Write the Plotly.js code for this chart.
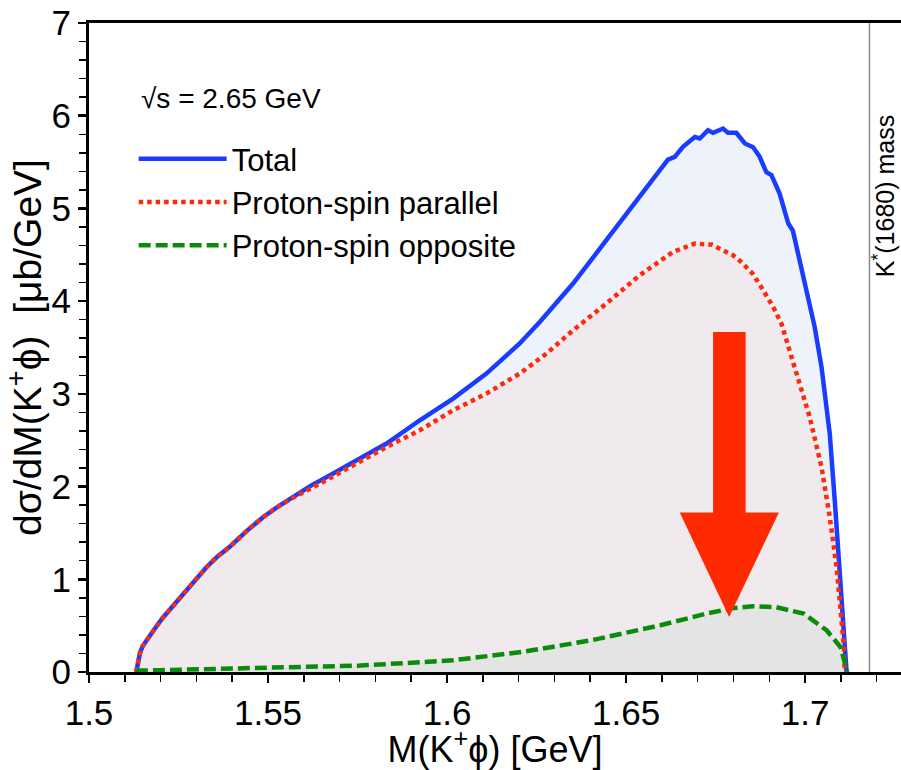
<!DOCTYPE html>
<html>
<head>
<meta charset="utf-8">
<script src="https://cdn.plot.ly/plotly-3.0.1.min.js"></script>
<style>html,body{margin:0;padding:0;background:#fff;}#plot{width:901px;height:770px;}</style>
</head>
<body>
<div id="plot"></div>
<script>
// ---- data ----
const totalM = [1.5132,1.5136,1.5142,1.5150,1.5160,1.5175,1.5188,1.5205,1.5225,1.5250,1.5272,1.5300,1.5328,1.5360,1.5393,1.5440,1.5486,1.5530,1.5579,1.5620,1.5672,1.5737,1.5831,1.5924,1.6017,1.6110,1.6203,1.6259,1.6296,1.6352,1.6445,1.6538,1.6580,1.6617,1.6636,1.6659,1.6692,1.6706,1.6729,1.6743,1.6771,1.6785,1.6808,1.6832,1.6855,1.6873,1.6892,1.6906,1.6929,1.6953,1.6966,1.6985,1.7008,1.7027,1.7046,1.7060,1.7069,1.7083,1.7097,1.7106,1.7112,1.7116];
const totalY = [0,0.10,0.20,0.28,0.34,0.42,0.49,0.58,0.67,0.78,0.88,1.01,1.13,1.25,1.35,1.52,1.67,1.79,1.91,2.01,2.12,2.265,2.464,2.715,2.949,3.219,3.543,3.776,3.94,4.19,4.657,5.124,5.33,5.527,5.556,5.664,5.771,5.754,5.844,5.815,5.862,5.815,5.815,5.70,5.66,5.56,5.39,5.36,5.16,4.84,4.76,4.44,4.08,3.72,3.29,2.82,2.57,1.85,1.13,0.59,0.2,0];

const parM = [1.5132,1.5136,1.5142,1.5150,1.5160,1.5175,1.5188,1.5205,1.5225,1.5250,1.5272,1.5300,1.5328,1.5360,1.5393,1.5440,1.5486,1.5530,1.5579,1.5644,1.5737,1.5831,1.5924,1.6017,1.6110,1.6203,1.6278,1.6352,1.6445,1.6538,1.6631,1.6692,1.6739,1.6799,1.6822,1.6855,1.6883,1.6911,1.6934,1.6957,1.6980,1.7004,1.7013,1.7046,1.7069,1.7088,1.7102,1.7108,1.7111];
const parY = [0,0.10,0.20,0.28,0.34,0.42,0.49,0.58,0.67,0.78,0.88,1.01,1.13,1.25,1.35,1.52,1.67,1.79,1.90,2.03,2.23,2.427,2.607,2.823,3.003,3.219,3.435,3.686,3.974,4.279,4.531,4.621,4.610,4.495,4.423,4.29,4.118,3.937,3.758,3.47,3.20,2.895,2.75,2.211,1.672,1.133,0.593,0.3,0];

const oppM = [1.5132,1.5139,1.5200,1.5300,1.5500,1.5758,1.6016,1.6209,1.6403,1.6596,1.6725,1.6800,1.6854,1.6918,1.6996,1.7060,1.7099,1.7112,1.7118];
const oppY = [0,0.015,0.02,0.03,0.05,0.069,0.126,0.216,0.342,0.504,0.63,0.69,0.709,0.70,0.63,0.45,0.27,0.10,0];

const xTickVals = [1.5,1.55,1.6,1.65,1.7];
const xTickText = ["1.5","1.55","1.6","1.65","1.7"];
const yTickVals = [0,1,2,3,4,5,6,7];
const seriesNames = ["Total","Proton-spin parallel","Proton-spin opposite"];
const kStarMass = 1.718;
const sqrtS = "2.65";

// ---- styles ----
const FONT = "Liberation Sans, Arial, Helvetica, sans-serif";
const blue = "#1a3cff", red = "#ff2a0a", green = "#0a8c0a";
const blueFill = "rgb(238,243,251)", redFill = "rgb(240,233,238)", greenFill = "rgb(228,228,228)";

const traces = [
  {x: totalM, y: totalY, mode: "lines", fill: "tozeroy", fillcolor: blueFill, line: {width: 0, color: blueFill}, showlegend: false, hoverinfo: "skip"},
  {x: parM, y: parY, mode: "lines", fill: "tozeroy", fillcolor: redFill, line: {width: 0, color: redFill}, showlegend: false, hoverinfo: "skip"},
  {x: oppM, y: oppY, mode: "lines", fill: "tozeroy", fillcolor: greenFill, line: {width: 0, color: greenFill}, showlegend: false, hoverinfo: "skip"},
  {x: totalM, y: totalY, mode: "lines", name: seriesNames[0], line: {color: blue, width: 4.5}},
  {x: parM, y: parY, mode: "lines", name: seriesNames[1], line: {color: red, width: 4.5, dash: "4.5px,4px"}},
  {x: oppM, y: oppY, mode: "lines", name: seriesNames[2], line: {color: green, width: 4.5, dash: "12px,5px"}}
];

const layout = {
  width: 901, height: 770,
  margin: {l: 89, r: 0, t: 23, b: 98},
  paper_bgcolor: "#fff", plot_bgcolor: "#fff",
  font: {family: FONT, color: "#000", size: 34},
  showlegend: true,
  legend: {x: 0.055, y: 0.832, xanchor: "left", yanchor: "top", bgcolor: "rgba(0,0,0,0)",
           font: {family: FONT, size: 31, color: "#000"}, itemwidth: 88, tracegroupgap: 0},
  xaxis: {
    range: [1.5, 1.7268], showgrid: false, zeroline: false,
    showline: true, linecolor: "#000", linewidth: 3, mirror: true,
    ticks: "outside", ticklen: 8, tickwidth: 2.5, tickcolor: "#000",
    tickvals: xTickVals, ticktext: xTickText,
    tickfont: {family: FONT, size: 35, color: "#000"},
    minor: {dtick: 0.01, tick0: 1.5, ticks: "outside", ticklen: 7, tickwidth: 1.5, tickcolor: "#000", showgrid: false},
    title: {text: "M(K<sup>+</sup>ϕ) [GeV]", font: {family: FONT, size: 36, color: "#000"}, standoff: 13}
  },
  yaxis: {
    range: [0, 7], showgrid: false, zeroline: false,
    showline: true, linecolor: "#000", linewidth: 3, mirror: false,
    ticks: "outside", ticklen: 8, tickwidth: 2.5, tickcolor: "#000",
    tickvals: yTickVals,
    tickfont: {family: FONT, size: 35, color: "#000"},
    minor: {dtick: 0.2, tick0: 0, ticks: "outside", ticklen: 7, tickwidth: 1.5, tickcolor: "#000", showgrid: false},
    title: {text: "dσ/dM(K<sup>+</sup>ϕ)  [μb/GeV]", font: {family: FONT, size: 39, color: "#000"}, standoff: 1}
  },
  shapes: [
    {type: "line", xref: "x", yref: "y", x0: kStarMass, x1: kStarMass, y0: 0, y1: 7,
     line: {color: "rgb(140,140,140)", width: 1.5}, layer: "below"},
    {type: "path", xref: "x", yref: "y",
     path: "M1.6743,3.668 L1.6834,3.668 L1.6834,1.720 L1.6927,1.720 L1.6788,0.593 L1.6650,1.720 L1.6743,1.720 Z",
     fillcolor: "rgb(255,42,0)", line: {width: 0}, layer: "above"}
  ],
  annotations: [
    {text: "√s = " + sqrtS + " GeV", xref: "paper", yref: "paper", x: 0.062, y: 0.884,
     xanchor: "left", yanchor: "middle", showarrow: false, font: {family: FONT, size: 28, color: "#000"}},
    {text: "K<sup>*</sup>(1680) mass", xref: "paper", yref: "paper", x: 0.979, y: 0.733,
     xanchor: "center", yanchor: "middle", textangle: -90, showarrow: false,
     font: {family: FONT, size: 25, color: "#000"}}
  ]
};

Plotly.newPlot("plot", traces, layout, {displayModeBar: false, staticPlot: true});
</script>
</body>
</html>
